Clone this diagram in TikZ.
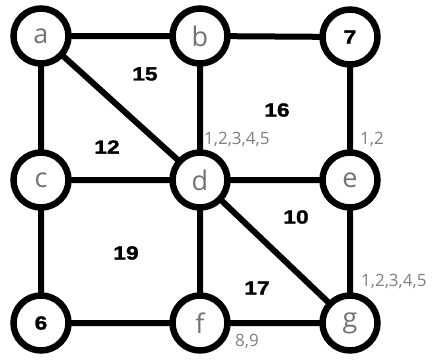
\documentclass[tikz,border=0pt]{standalone}
\usepackage{fontspec}
\setmainfont{Open Sans}
\newfontfamily\facefont[FakeStretch=1.2,FakeBold=1.5]{Liberation Sans Bold}
\begin{document}
\begin{tikzpicture}[x=1pt,y=-1pt,
  vtx/.style={circle,draw=black,line width=6.5pt,fill=white,minimum size=55pt,inner sep=0pt,
    font=\fontsize{27}{27}\selectfont,text=black!55},
  numvtx/.style={vtx,font=\facefont\fontsize{19}{19}\selectfont,text=black},
  edge/.style={line width=6pt},
  face/.style={font=\facefont\fontsize{19}{19}\selectfont},
  small/.style={font=\fontsize{17}{17}\selectfont,text=black!50,inner sep=0pt}]
\useasboundingbox (0,0) rectangle (434,359);
\fill[white] (0,0) rectangle (434,359);
\coordinate (pa) at (41,36);
\coordinate (pb) at (200,36);
\coordinate (p7) at (350,37);
\coordinate (pc) at (41,180);
\coordinate (pd) at (200,180);
\coordinate (pe) at (350,180);
\coordinate (p6) at (41,323);
\coordinate (pf) at (200,323);
\coordinate (pg) at (350,323);
\draw[edge] (pa)--(pb) (pb)--(p7) (pa)--(pc) (pa)--(pd) (pb)--(pd) (p7)--(pe)
  (pc)--(pd) (pd)--(pe) (pc)--(p6) (pd)--(pf) (pd)--(pg) (pe)--(pg) (p6)--(pf) (pf)--(pg);
\node[vtx] (a) at (pa) {a};
\node[vtx] (b) at (pb) {b};
\node[numvtx] (n7) at (p7) {7};
\node[vtx] (c) at (pc) {c};
\node[vtx] (d) at (pd) {d};
\node[vtx] (e) at (pe) {e};
\node[numvtx] (n6) at (p6) {6};
\node[vtx] (f) at (pf) {f};
\node[vtx] (g) at (pg) {g};
\node[face] (l15) at (145,74) {15};
\node[face] (l16) at (277,110) {16};
\node[face] (l12) at (107,147) {12};
\node[face] (l10) at (296,217) {10};
\node[face] (l19) at (126,253) {19};
\node[face] (l17) at (257,288) {17};
\node[small,anchor=west] (s1) at (204,139) {1,2,3,4,5};
\node[small,anchor=west] (s2) at (360,139) {1,2};
\node[small,anchor=west] (s3) at (361,281) {1,2,3,4,5};
\node[small,anchor=west] (s4) at (235,341) {8,9};
\end{tikzpicture}
\end{document}
